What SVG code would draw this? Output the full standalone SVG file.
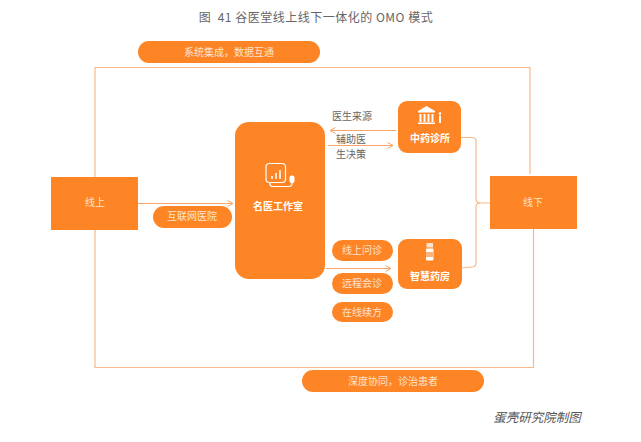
<svg xmlns="http://www.w3.org/2000/svg" width="641" height="442" viewBox="0 0 641 442">
<style>
text{font-family:"Noto Sans CJK SC","Noto Sans",sans-serif;text-anchor:middle}
.o{fill:#fd8526}
.t{fill:#fde3cc;font-size:10px}
.b{fill:#fff;font-size:10px;font-weight:700}
.g{fill:#666;font-size:10px}
.c{fill:none;stroke:#f8b98a;stroke-width:1.2}
.a{fill:none;stroke:#f9a468;stroke-width:1.2;marker-end:url(#m)}
.w{fill:none;stroke:#fff;stroke-width:1.2}
</style>
<defs><marker id="m" markerWidth="8" markerHeight="8" refX="6" refY="3.5" orient="auto" markerUnits="userSpaceOnUse"><path d="M0.5 0.5L6 3.5L0.5 6.5" fill="none" stroke="#f9a468" stroke-width="1"/></marker></defs>
<rect width="641" height="442" fill="#fff"/>
<text x="316" y="22" style="fill:#666;font-size:12px;letter-spacing:.5px;white-space:pre">图  41 谷医堂线上线下一体化的 OMO 模式</text>
<g id="connectors">
<path class="c" d="M95 177V67.500H530V174"/>
<path class="c" d="M95 230V367.500H533.500V229"/>
<path class="a" d="M138 203.500H233"/>
<path class="a" d="M396 130.500H330"/>
<path class="a" d="M328 145.500H393"/>
<path class="a" d="M326 268.500H391"/>
<path class="c" d="M461 137.500H472Q476 137.500 476 141V199Q476 203 480 203H490"/>
<path class="c" d="M461 268L472 267Q476 267 476 263V207Q476 203 480 203"/>
</g>
<g id="n-top"><rect class="o" x="138" y="41" width="182" height="22" rx="11"/><text class="t" x="229" y="56">系统集成，数据互通</text></g>
<g id="n-bottom"><rect class="o" x="302" y="370" width="182" height="22" rx="11"/><text class="t" x="393" y="385">深度协同，诊治患者</text></g>
<g id="n-online"><rect class="o" x="51" y="177" width="87" height="53"/><text class="t" x="95" y="206">线上</text></g>
<g id="n-offline"><rect class="o" x="490" y="176" width="87" height="53"/><text class="t" x="533" y="206">线下</text></g>
<g id="n-hospital"><rect class="o" x="153" y="206" width="79" height="22" rx="11"/><text class="t" x="192" y="220">互联网医院</text></g>
<g id="n-studio"><rect class="o" x="235" y="122" width="90" height="157" rx="14"/>
<rect class="w" x="266" y="163.500" width="19.500" height="19" rx="3.500"/>
<path class="w" d="M270 183V184Q270 186.500 273 186.500H288Q292 186.500 292 184V183"/>
<rect x="289.500" y="175.500" width="5" height="7.500" rx="2" fill="#fff"/>
<path d="M271 179v-3h2v3zM275 179v-6h2v6zM279 179v-9h2v9z" fill="#fde3cc"/>
<text class="b" x="278" y="210">名医工作室</text></g>
<g id="n-tcm"><rect class="o" x="398" y="101" width="63" height="52" rx="9"/>
<path d="M418 111L426.500 106L435 111V112.500H418ZM419.500 114h2v8h-2zM423.500 114h2v8h-2zM427.500 114h2v8h-2zM431.500 114h2v8h-2zM418 122.500h17v1.500h-17z" fill="#fff"/>
<circle cx="440" cy="113.500" r="1.300" fill="#fff"/><rect x="439" y="115.500" width="2" height="7.500" fill="#fff"/>
<text class="b" x="430" y="142">中药诊所</text></g>
<g id="n-pharmacy"><rect class="o" x="398" y="239" width="64" height="50" rx="9"/>
<rect x="426.500" y="243" width="6.500" height="4.500" fill="#fde3cc"/><rect x="426" y="248.500" width="7.500" height="12" rx="1" fill="#fff"/><rect x="426" y="252" width="7.500" height="5" fill="#fdb27a"/>
<text class="b" x="430" y="280">智慧药房</text></g>
<g id="n-q1"><rect class="o" x="332" y="240" width="61" height="21" rx="10.500"/><text class="t" x="362" y="254">线上问诊</text></g>
<g id="n-q2"><rect class="o" x="332" y="273" width="61" height="21" rx="10.500"/><text class="t" x="362" y="287">远程会诊</text></g>
<g id="n-q3"><rect class="o" x="332" y="302" width="61" height="20" rx="10"/><text class="t" x="362" y="316">在线续方</text></g>
<text class="g" x="352" y="120">医生来源</text>
<text class="g" x="351" y="143">辅助医</text>
<text class="g" x="351" y="157.800">生决策</text>
<text x="537" y="421.500" style="fill:#555;font-size:12.500px;font-style:italic">蛋壳研究院制图</text>
</svg>
